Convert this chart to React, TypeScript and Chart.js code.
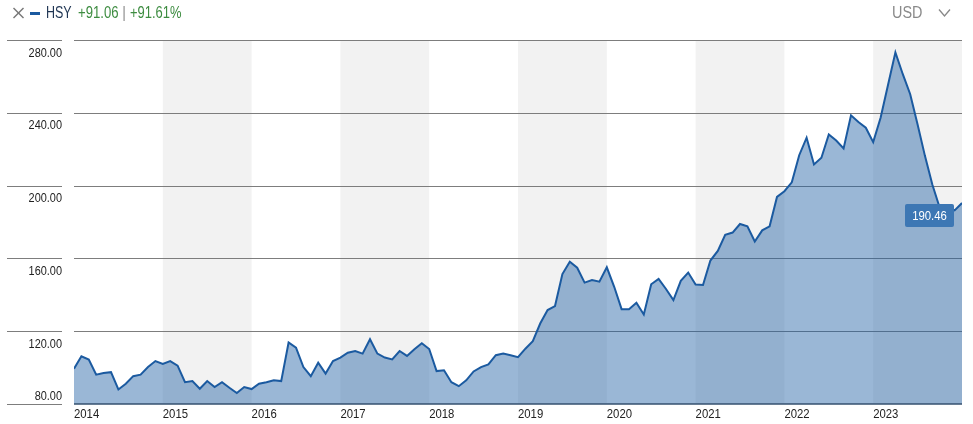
import { useEffect, useRef } from "react";
import { Chart, registerables } from "chart.js";

Chart.register(...registerables);

// ---- Data (monthly closes, HSY, Dec 2013 .. Dec 2023) ----
const startYear = 2014;
const monthlyCloses: number[] = [
  99.4, 106.2, 104.4, 96.1, 97.0, 97.5, 88.0, 91.1, 95.3, 96.1, 100.3, 103.6,
  102.0, 103.6, 101.1, 92.0, 92.6, 88.4, 92.6, 89.3, 92.0, 88.9, 86.0, 89.3,
  88.2, 91.1, 92.0, 93.0, 92.6, 113.8, 111.0, 100.3, 95.3, 102.7, 96.7, 103.6,
  105.5, 108.2, 109.1, 107.7, 115.6, 107.7, 105.5, 104.5, 109.1, 106.4, 110.1, 113.4,
  110.2, 98.1, 98.5, 92.0, 89.8, 93.0, 97.9, 100.3, 101.8, 106.8, 107.7, 106.8,
  105.7, 110.4, 114.5, 124.2, 131.6, 133.8, 151.4, 158.2, 154.9, 146.7, 148.1, 147.2,
  155.1, 144.4, 132.1, 132.1, 135.6, 129.2, 145.8, 148.7, 143.2, 137.1, 147.7, 152.2,
  145.6, 145.4, 158.8, 164.1, 173.0, 174.2, 178.9, 177.6, 169.3, 175.4, 177.6, 193.8,
  196.9, 201.8, 216.7, 226.3, 211.6, 215.3, 228.1, 224.8, 220.4, 238.6, 234.9, 231.8,
  223.9, 237.3, 255.3, 273.2, 261.2, 250.2, 233.6, 216.2, 200.5, 187.7, 188.0, 186.4,
  190.46,
];
const yTickValues: number[] = [80, 120, 160, 200, 240, 280];
const yearTicks: number[] = [2014, 2015, 2016, 2017, 2018, 2019, 2020, 2021, 2022, 2023];
const shadedYears: number[] = [2015, 2017, 2019, 2021, 2023];
const lastValueLabel = "190.46";
const tickerName = "HSY";
const changeAbs = "+91.06";
const changePct = "+91.61%";
const currency = "USD";

const FONT = '"Liberation Sans", Arial, sans-serif';
const LINE_BLUE = "#1b5aa0";
const SQUEEZE = 0.84;

function drawText(ctx: CanvasRenderingContext2D, text: string, x: number, y: number, align: CanvasTextAlign, sx: number) {
  ctx.save();
  ctx.translate(x, y);
  ctx.scale(sx, 1);
  ctx.textAlign = align;
  ctx.fillText(text, 0, 0);
  ctx.restore();
}

const decorPlugin = {
  id: "decor",
  beforeDatasetsDraw(chart: any) {
    const { ctx, chartArea: a, scales } = chart;
    const x = scales.x;
    const y = scales.y;
    ctx.save();
    ctx.fillStyle = "#f2f2f2";
    for (const yr of shadedYears) {
      const x0 = x.getPixelForValue(yr);
      const x1 = x.getPixelForValue(yr + 1);
      ctx.fillRect(x0, a.top, x1 - x0, a.bottom - a.top);
    }
    ctx.strokeStyle = "#7d7d7d";
    ctx.lineWidth = 1;
    for (const v of yTickValues) {
      const py = Math.round(y.getPixelForValue(v)) + 0.5;
      ctx.beginPath();
      ctx.moveTo(7, py);
      ctx.lineTo(62, py);
      if (v !== yTickValues[0]) {
        ctx.moveTo(a.left, py);
        ctx.lineTo(a.right, py);
      }
      ctx.stroke();
    }
    ctx.restore();
  },
  afterDatasetsDraw(chart: any) {
    const { ctx, chartArea: a, scales } = chart;
    const x = scales.x;
    const y = scales.y;
    ctx.save();
    // bottom axis line
    ctx.strokeStyle = "#34506f";
    ctx.lineWidth = 1.5;
    ctx.beginPath();
    const by = y.getPixelForValue(yTickValues[0]);
    ctx.moveTo(a.left, by);
    ctx.lineTo(a.right, by);
    ctx.stroke();

    // y labels
    ctx.fillStyle = "#222222";
    ctx.font = `13px ${FONT}`;
    ctx.textBaseline = "alphabetic";
    for (const v of yTickValues) {
      const py = y.getPixelForValue(v);
      const ty = v === yTickValues[0] ? py - 4 : py + 16.5;
      drawText(ctx, v.toFixed(2), 62, ty, "right", SQUEEZE);
    }

    // x labels
    ctx.font = `13.5px ${FONT}`;
    for (const yr of yearTicks) {
      const px = x.getPixelForValue(yr);
      drawText(ctx, String(yr), px, 418, "left", SQUEEZE);
    }

    // last value box
    const lastIdx = monthlyCloses.length - 1;
    const lx = x.getPixelForValue(startYear + lastIdx / 12);
    const ly = y.getPixelForValue(monthlyCloses[lastIdx]);
    const bw = 49;
    const bh = 23;
    const bx = lx - 8 - bw;
    const byy = ly + 1;
    ctx.fillStyle = "#3d77b4";
    ctx.beginPath();
    (ctx as any).roundRect(bx, byy, bw, bh, 2);
    ctx.fill();
    ctx.fillStyle = "#ffffff";
    ctx.font = `13.5px ${FONT}`;
    ctx.textBaseline = "middle";
    drawText(ctx, lastValueLabel, bx + bw / 2, byy + bh / 2 + 0.5, "center", SQUEEZE);
    ctx.restore();
  },
};

export default function App() {
  const canvasRef = useRef<HTMLCanvasElement | null>(null);

  useEffect(() => {
    document.body.style.margin = "0";
    const canvas = canvasRef.current;
    if (!canvas) return;
    const points = monthlyCloses.map((v, i) => ({ x: startYear + i / 12, y: v }));
    const chart = new Chart(canvas, {
      type: "line",
      data: {
        datasets: [
          {
            data: points,
            borderColor: LINE_BLUE,
            borderWidth: 2,
            backgroundColor: "rgba(30, 95, 165, 0.45)",
            fill: "start",
            pointRadius: 0,
            tension: 0,
          },
        ],
      },
      options: {
        animation: false,
        responsive: false,
        maintainAspectRatio: false,
        devicePixelRatio: 1,
        layout: { padding: { left: 74, top: 40, right: 11, bottom: 20 } },
        plugins: { legend: { display: false }, tooltip: { enabled: false } },
        scales: {
          x: { type: "linear", min: startYear, max: startYear + 10, display: false },
          y: { type: "linear", min: 80, max: 280, display: false },
        },
      },
      plugins: [decorPlugin],
    });
    return () => chart.destroy();
  }, []);

  const headStyle: any = {
    position: "absolute",
    top: 4,
    fontFamily: FONT,
    fontSize: "16px",
    lineHeight: "18px",
    whiteSpace: "nowrap",
    transformOrigin: "left center",
  };

  return (
    <div style={{ position: "relative", width: 973, height: 424, background: "#fff" }}>
      <canvas ref={canvasRef} width={973} height={424} style={{ position: "absolute", left: 0, top: 0, width: 973, height: 424 }} />
      <svg width={14} height={14} style={{ position: "absolute", left: 12, top: 6 }}>
        <line x1={1.5} y1={2} x2={11.5} y2={12} stroke="#777" strokeWidth={1.4} />
        <line x1={11.5} y1={2} x2={1.5} y2={12} stroke="#777" strokeWidth={1.4} />
      </svg>
      <div style={{ position: "absolute", left: 30, top: 11.5, width: 10, height: 3, background: LINE_BLUE }} />
      <span style={{ ...headStyle, left: 46, color: "#1f3553", transform: "scaleX(0.78)" }}>{tickerName}</span>
      <span style={{ ...headStyle, left: 78, color: "#3d8c40", transform: "scaleX(0.82)" }}>{changeAbs}</span>
      <span style={{ ...headStyle, left: 122, color: "#9a9a9a" }}>|</span>
      <span style={{ ...headStyle, left: 130, color: "#3d8c40", transform: "scaleX(0.81)" }}>{changePct}</span>
      <span style={{ ...headStyle, left: 892, color: "#8a8a8a", transform: "scaleX(0.9)" }}>{currency}</span>
      <svg width={14} height={10} style={{ position: "absolute", left: 938, top: 8 }}>
        <polyline points="1,1.5 6.5,8 12,1.5" fill="none" stroke="#888" strokeWidth={1.3} />
      </svg>
    </div>
  );
}
